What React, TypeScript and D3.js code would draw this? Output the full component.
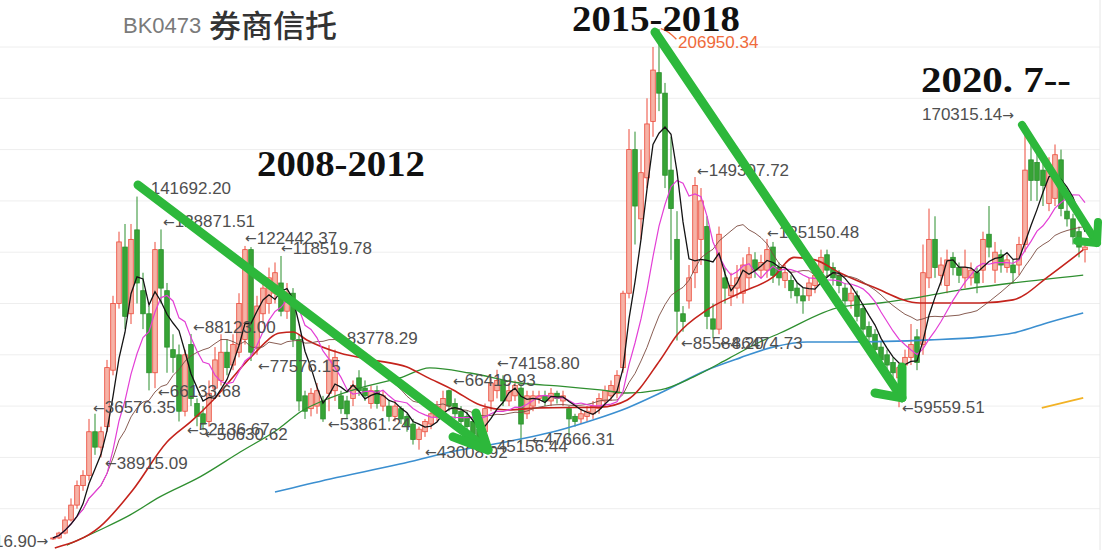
import React from "react";
import * as d3 from "d3";

// Monthly OHLC values of BK0473 (unit: thousand points)
const opens = [
  8.2, 8.6, 10.5, 15.6, 21.4, 29, 33, 50, 44, 52,
  74, 100, 122, 96, 128.7, 105, 96, 73, 121, 105,
  82, 80, 58, 84, 61, 57, 54, 67, 70, 81,
  76, 81, 86, 121, 83, 96, 100, 104, 108, 97,
  104, 86, 64, 59, 60, 62, 65, 66, 64, 62,
  63, 71, 67, 61, 66, 60, 60, 56, 59, 56,
  53, 47, 50, 53, 56, 58, 66, 61, 58, 56,
  54, 51, 50, 62, 66, 70, 62, 64, 67, 57,
  60, 63, 64, 62, 65, 62, 59, 56, 55, 56,
  57, 59, 62, 64, 65, 75, 104, 160, 133, 149,
  171, 190, 182, 152, 125, 96, 101, 112, 125, 130,
  94, 90, 110, 103, 106, 104, 110, 117, 113, 113,
  122, 114, 109, 109, 106, 103, 103, 107, 112, 119,
  114, 111, 106, 101, 103, 98, 91, 88, 83, 80,
  77, 71, 76, 79, 87, 84, 110, 125, 111, 107,
  118, 114, 110, 110, 112, 113, 127, 113, 119, 114,
  115, 115, 123, 156, 155, 152, 139, 141, 156, 136,
  133, 128, 121,
];
const highs = [
  9, 11, 17, 24, 31, 35, 55, 57, 52, 78,
  103, 128, 131, 131, 141.69, 112, 99, 124, 128.87, 108,
  88, 84, 82, 88.12, 63, 60, 70, 83, 88, 86,
  88, 104, 122.44, 122, 103, 110, 114, 116, 118.52, 108,
  106, 88, 66, 67, 69, 64, 83.78, 82, 66, 64,
  70, 74, 70, 68, 68, 66, 62, 62, 60, 57,
  55, 52, 55, 58, 62, 66, 66.42, 63, 60, 58,
  56, 53, 61, 71, 74.16, 72, 69, 70, 69, 66,
  66, 66, 66, 67, 66, 66, 60, 57, 59, 60,
  62, 65, 68, 70, 74, 105, 168, 167, 160, 180,
  200, 206.95, 186, 165, 136, 99, 115, 149.31, 145, 134,
  100, 130, 114, 112, 115, 118, 122, 120, 119, 125.15,
  124, 116, 115, 111, 108, 106, 110, 113, 121, 121,
  116, 113, 108, 107, 105, 100, 93, 90, 85, 82,
  79, 77, 82, 92, 90, 123, 137, 134, 118, 121,
  120, 116, 121, 116, 114, 128, 138, 124, 121, 119,
  117, 126, 170.32, 163, 160, 155, 157, 162, 160, 140,
  135, 130, 124,
];
const lows = [
  7.82, 8.2, 10, 15, 20, 27, 31, 41, 40, 50,
  72, 98, 90, 92, 100, 90, 66.13, 67, 100, 73,
  73, 54, 56, 60, 52.14, 50.63, 52, 64, 68, 72,
  74, 79, 84, 77.58, 80, 92, 96, 100, 95, 94,
  83, 58, 55, 56, 57, 53.86, 58, 62, 57, 55,
  60, 64, 62, 59, 59, 58, 54, 54, 53, 50,
  45, 43.01, 48, 51, 54, 56, 58, 55, 52, 50,
  47, 45, 48, 58, 63, 60, 60, 62, 45.16, 55,
  58, 61, 60, 60, 61, 60, 47.67, 52, 53, 54,
  55, 57, 60, 62, 63, 73, 102, 123, 125, 145,
  165, 175, 145, 117, 85.58, 89, 98, 106, 115, 90,
  86.47, 88, 100, 99, 102, 100, 106, 110, 110, 110,
  108, 107, 106, 102, 100, 96, 101, 104, 110, 110,
  107, 104, 99, 98, 93, 88, 84, 79, 76, 73,
  70, 59.56, 73, 76, 74, 80, 106, 110, 107, 104,
  111, 108, 106, 107, 104, 108, 118, 108, 112, 112,
  108, 111, 120, 140, 140, 138, 136, 138, 134, 130,
  123, 118, 116,
];
const closes = [
  8.6, 10.5, 15.6, 21.4, 29, 33, 50, 44, 50, 75,
  100, 124, 95, 125, 108, 96, 73, 121, 106, 83,
  79, 58, 80, 63, 56, 53, 65, 78, 81, 75,
  84, 100, 121, 81, 99, 106, 110, 112, 97, 104,
  86, 62, 58, 65, 66, 55, 78, 79, 59, 57,
  68, 66, 64, 66, 61, 64, 56, 60, 55, 52,
  47, 51, 54, 57, 60, 63, 60, 57, 54, 52,
  49, 47, 59, 69, 70, 62, 66, 68, 53, 64,
  64, 64, 62, 65, 63, 64, 55, 54, 57, 58,
  60, 63, 66, 68, 72, 104, 160, 138, 151, 170,
  191, 182, 150, 137, 97, 93, 110, 146, 140, 95,
  90, 127, 106, 107, 110, 115, 119, 113, 116, 121,
  111, 110, 112, 105, 103, 101, 108, 111, 118, 113,
  110, 107, 101, 104, 95, 90, 87, 82, 78, 76,
  73, 75, 79, 84, 77, 112, 125, 114, 115, 117,
  114, 111, 114, 113, 108, 125, 122, 120, 115, 117,
  112, 123, 152, 148, 148, 146, 153, 158, 137, 133,
  126, 122, 122,
];

// Long moving averages, [candle index, value]
const redIdx = [0.3, 7.8, 13.3, 19, 23.3, 26.7, 33.3, 37.8, 40, 42.3, 47.8, 53.3, 59, 62.3, 66.7, 71.2, 75.7, 81.2, 91.2, 95.7, 101.2, 104, 109, 114.5, 120, 123.5, 127, 131.2, 136.7, 144.5, 154.5, 160, 166.2, 171.7];
const redVal = [4.7, 12.9, 27.3, 46.0, 54.6, 62.4, 79.9, 88.5, 88.9, 85.8, 80.7, 78.0, 75.2, 71.3, 66.3, 60.4, 58.5, 59.3, 59.6, 62.4, 78.0, 87.7, 97.5, 104.1, 110.3, 118.0, 117.0, 111.9, 106.4, 100.2, 100.2, 101.4, 111.1, 120.9];
const greenIdx = [2.3, 7.8, 12.8, 17.8, 24.5, 31.2, 37.8, 41.2, 46.2, 51.2, 57.8, 62.8, 69.5, 77.8, 84.5, 91.2, 95.7, 101.2, 106.7, 112.8, 117.8, 121.2, 131.2, 137.8, 144.5, 151.2, 160, 171.7];
const greenVal = [5.8, 11.7, 17.5, 24.6, 32.4, 42.1, 51.5, 57.7, 63.2, 67.1, 71.0, 74.9, 72.9, 69.0, 67.8, 66.3, 65.1, 66.3, 71.3, 78.8, 85.0, 88.5, 98.6, 100.2, 102.5, 105.3, 108.0, 111.1];
const blueIdx = [37, 46.2, 57.8, 66.2, 74.5, 84.5, 90, 95.7, 101.2, 109, 114.5, 120, 125.7, 132.3, 146.2, 154.5, 160, 166.2, 171.7];
const blueVal = [26.5, 31.6, 37.4, 42.1, 45.6, 50.7, 54.6, 59.3, 65.1, 74.1, 78.8, 83.0, 85.0, 85.0, 85.8, 86.9, 88.5, 92.8, 96.3];
const yellowIdx = [164.8, 171.7];
const yellowVal = [59.3, 63.2];

const gridValues = [20, 40, 60, 80, 100, 120, 140, 160, 180, 200];

// Price annotations: text, anchor candle index, anchor value
const labelTexts = ["141692.20", "128871.51", "122442.37", "118519.78", "88123.00", "77576.15", "83778.29", "66133.68", "36576.35", "38915.09", "52136.67", "50630.62", "53861.24", "43008.92", "45156.44", "47666.31", "74158.80", "66419.93", "149307.72", "125150.48", "85584.20", "86474.73", "59559.51"];
const labelIdx = [14.33, 18.33, 32, 38, 23.33, 34.17, 47, 17.5, 6.67, 8.67, 22.33, 25.33, 45.83, 62, 72, 79.83, 74, 66.67, 107.33, 119, 104.67, 111.17, 141.5];
const labelVal = [144.7, 131.8, 125.5, 121.6, 90.8, 75.6, 86.5, 65.5, 59.3, 37.8, 50.7, 49.1, 53.0, 42.1, 44.1, 46.8, 76.8, 69.8, 151.7, 127.5, 84.6, 84.6, 59.3];

// Trend arrows: [start, tip, head1, head2] as [index, value]
const arrows = [
  [[14.17, 146.2], [72.5, 42.9], [66.67, 48.0], [70.5, 57.3]],
  [[100.33, 205.8], [141.5, 63.2], [137, 65.1], [141.5, 75.2]],
  [[161.5, 169.6], [174, 123.6], [170.67, 124.4], [174.17, 131.8]],
];

function maOf(period: number) {
  return closes.map((_, i) => d3.mean(closes.slice(Math.max(0, i - period + 1), i + 1)) as number);
}

export default function App() {
  const W = 1108, H = 550;
  const N = closes.length;
  const x = d3.scaleLinear().domain([0, N - 1]).range([53, 53 + 6 * (N - 1)]);
  const y = d3.scaleLinear().domain([0, 200]).range([560, 47]);

  const lineIdx = d3.line<number>().x((_, i) => x(i)).y((v) => y(v));
  const smooth = (idx: number[], vals: number[]) =>
    d3.line<number>().x((_, i) => x(idx[i])).y((v) => y(v)).curve(d3.curveMonotoneX)(vals) || "";

  const ma5 = maOf(5), ma10 = maOf(10), ma20 = maOf(20);
  const bw = 4.6;
  const sans = "'Liberation Sans', Arial, sans-serif";
  const arrowFont = "'DejaVu Sans', sans-serif";
  const serif = "'Liberation Serif', 'DejaVu Serif', serif";
  const arrowLine = d3.line<number[]>().x((p) => x(p[0])).y((p) => y(p[1]));

  return (
    <svg width={W} height={H} style={{ position: "absolute", left: 0, top: 0, background: "#fff" }}>
      <rect x={0} y={0} width={W} height={H} fill="#fff" />
      {gridValues.map((g) => (
        <line key={g} x1={0} x2={1100} y1={y(g)} y2={y(g)} stroke="#eeeeee" strokeWidth={1} />
      ))}
      <line x1={1100} x2={1100} y1={0} y2={H} stroke="#e6e6e6" />
      <rect x={116} y={2} width={230} height={40} fill="#ffffff" />

      {closes.map((c, i) => {
        const o = opens[i];
        const up = c >= o;
        const stroke = up ? "#ec4a3a" : "#2b8f2d";
        const fill = up ? "#f6b2a6" : "#37a436";
        const top = y(Math.max(o, c));
        const bot = y(Math.min(o, c));
        return (
          <g key={i}>
            <line x1={x(i)} x2={x(i)} y1={y(highs[i])} y2={y(lows[i])} stroke={stroke} strokeWidth={1} />
            <rect x={x(i) - bw / 2} y={top} width={bw} height={Math.max(1, bot - top)} fill={fill} stroke={stroke} strokeWidth={0.8} />
          </g>
        );
      })}

      <path d={smooth(yellowIdx, yellowVal)} fill="none" stroke="#f2b225" strokeWidth={1.8} />
      <path d={smooth(blueIdx, blueVal)} fill="none" stroke="#3b8fd0" strokeWidth={1.6} />
      <path d={smooth(greenIdx, greenVal)} fill="none" stroke="#2f8f30" strokeWidth={1.3} />
      <path d={smooth(redIdx, redVal)} fill="none" stroke="#c4231c" strokeWidth={1.6} />
      <path d={lineIdx(ma20) || ""} fill="none" stroke="#7a4b40" strokeWidth={0.9} />
      <path d={lineIdx(ma10) || ""} fill="none" stroke="#e33fd6" strokeWidth={1.2} />
      <path d={lineIdx(ma5) || ""} fill="none" stroke="#141414" strokeWidth={1.3} />

      {labelTexts.map((t, i) => (
        <text key={t} x={x(labelIdx[i])} y={y(labelVal[i])} dominantBaseline="central" fontFamily={sans} fontSize={17} fill="#4f4f4f">
          <tspan fontFamily={arrowFont} fontSize={14}>←</tspan>
          {t}
        </text>
      ))}
      <text x={x(144.83)} y={y(173.5)} dominantBaseline="central" fontFamily={sans} fontSize={17} fill="#4f4f4f">
        170315.14<tspan fontFamily={arrowFont} fontSize={14}>→</tspan>
      </text>
      <text x={x(-0.8)} y={y(7.4)} dominantBaseline="central" textAnchor="end" fontFamily={sans} fontSize={17} fill="#4f4f4f">
        7816.90<tspan fontFamily={arrowFont} fontSize={14}>→</tspan>
      </text>
      <path d={`M${x(103.9)},${y(203)} Q${x(102.5)},${y(206.5)} ${x(101.3)},${y(207.2)}`} fill="none" stroke="#ef6a3a" strokeWidth={1.3} />
      <text x={x(104.17)} y={y(201.9)} dominantBaseline="central" fontFamily={sans} fontSize={17} fill="#ef6a3a">
        206950.34
      </text>

      {arrows.map((a, k) => (
        <g key={k} fill="none" stroke="#2db83b" strokeWidth={k === 2 ? 8 : 9} strokeLinecap="round" strokeLinejoin="round">
          <path d={arrowLine([a[0], a[1]]) || ""} />
          <path d={arrowLine([a[2], a[1], a[3]]) || ""} />
        </g>
      ))}

      <text x={123} y={33} fontFamily={sans} fontSize={22} fill="#7a7a7a">BK0473</text>
      <text x={209} y={37} fontFamily="'Noto Sans CJK SC', sans-serif" fontSize={31} fontWeight={500} fill="#333" textLength={128} lengthAdjust="spacingAndGlyphs">券商信托</text>

      <text x={257} y={176} fontFamily={serif} fontWeight="bold" fontSize={35} fill="#111" textLength={168} lengthAdjust="spacingAndGlyphs">2008-2012</text>
      <text x={572} y={31} fontFamily={serif} fontWeight="bold" fontSize={35} fill="#111" textLength={168} lengthAdjust="spacingAndGlyphs">2015-2018</text>
      <text x={921} y={92} fontFamily={serif} fontWeight="bold" fontSize={35} fill="#111" textLength={150} lengthAdjust="spacingAndGlyphs">2020. 7--</text>
    </svg>
  );
}
